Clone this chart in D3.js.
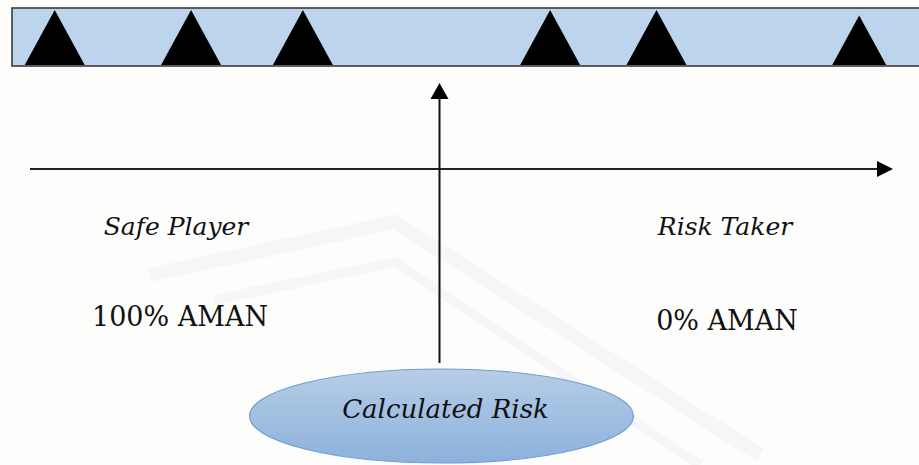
<!DOCTYPE html>
<html lang="en">
<head>
  <meta charset="UTF-8">
  <title>Calculated Risk</title>
  <style>
    body {
      margin: 0;
      padding: 0;
      background-color: #fdfdfc;
    }
    #chart {
      width: 919px;
      height: 465px;
    }
    .label {
      font-family: "DejaVu Serif", serif;
      fill: #111;
    }
  </style>
</head>
<body>
  <div id="chart"></div>
  <script src="https://d3js.org/d3.v7.min.js"></script>
  <script>
    // obstacles along the top bar, position in % of bar length
    const markerValues = [4.7, 19.7, 32.0, 59.2, 70.9, 93.2];
    const markerHeights = [1, 1, 1, 1, 1, 0.9];

    const profiles = ["Safe Player", "Risk Taker"];
    const safety = [100, 0];
    const centerLabel = "Calculated Risk";
    const centerSafety = 50;

    const width = 919;
    const height = 465;

    const svg = d3.select("#chart")
      .append("svg")
      .attr("width", width)
      .attr("height", height);

    const defs = svg.append("defs");
    const grad = defs.append("linearGradient")
      .attr("id", "ellGrad")
      .attr("x1", 0).attr("y1", 0).attr("x2", 0).attr("y2", 1);
    grad.append("stop").attr("offset", "0%").attr("stop-color", "#b7cde7");
    grad.append("stop").attr("offset", "100%").attr("stop-color", "#8cb1db");

    // faint watermark chevrons
    const wm = svg.append("g").attr("fill", "none").attr("stroke", "#f5f6f7");
    wm.append("path")
      .attr("stroke-width", 14)
      .attr("d", "M150,275 L395,222 L760,455");
    wm.append("path")
      .attr("stroke-width", 10)
      .attr("d", "M215,300 L395,262 L700,465");

    // top bar
    const bar = { x0: 12, x1: 921, y0: 8, y1: 66 };
    const x = d3.scaleLinear().domain([0, 100]).range([bar.x0, bar.x1]);
    const h = d3.scaleLinear().domain([0, 1]).range([0, bar.y1 - bar.y0 - 3]);

    svg.append("rect")
      .attr("x", bar.x0)
      .attr("y", bar.y0)
      .attr("width", bar.x1 - bar.x0)
      .attr("height", bar.y1 - bar.y0)
      .attr("fill", "#bdd5ec")
      .attr("stroke", "#3a3a3a")
      .attr("stroke-width", 1.6);

    const half = 30;
    svg.selectAll(".marker")
      .data(markerValues)
      .enter()
      .append("path")
      .attr("class", "marker")
      .attr("fill", "#000")
      .attr("d", (d, i) => {
        const cx = x(d);
        const base = bar.y1 - 1;
        const top = base - h(markerHeights[i]);
        const w = half * markerHeights[i];
        return `M${cx - w},${base} L${cx},${top} L${cx + w},${base} Z`;
      });

    // axes: horizontal spectrum, vertical arrow
    const sx = d3.scaleLinear().domain([100, 0]).range([178, 727]);
    const axisY = 169;
    const vx = sx(centerSafety) - 13;

    svg.append("line")
      .attr("x1", 30).attr("x2", 879)
      .attr("y1", axisY).attr("y2", axisY)
      .attr("stroke", "#222").attr("stroke-width", 2);
    svg.append("path")
      .attr("fill", "#000")
      .attr("d", `M893,${axisY} L877,${axisY - 8} L877,${axisY + 8} Z`);

    svg.append("line")
      .attr("x1", vx).attr("x2", vx)
      .attr("y1", 363).attr("y2", 96)
      .attr("stroke", "#111").attr("stroke-width", 2);
    svg.append("path")
      .attr("fill", "#000")
      .attr("d", `M${vx},83 L${vx - 9},99 L${vx + 9},99 Z`);

    // profile labels
    svg.selectAll(".profile")
      .data(profiles)
      .enter()
      .append("text")
      .attr("class", "label profile")
      .attr("x", (d, i) => sx(safety[i]) - 2)
      .attr("y", 235)
      .attr("text-anchor", "middle")
      .style("font-style", "italic")
      .style("font-size", "25px")
      .text(d => d);

    svg.selectAll(".safety")
      .data(safety)
      .enter()
      .append("text")
      .attr("class", "label safety")
      .attr("x", d => sx(d) + (d === 0 ? 0 : 2))
      .attr("y", (d, i) => i === 0 ? 326 : 330)
      .attr("text-anchor", "middle")
      .style("font-size", "27px")
      .text(d => `${d}% AMAN`);

    // center ellipse
    svg.append("ellipse")
      .attr("cx", vx + 2)
      .attr("cy", 416)
      .attr("rx", 192)
      .attr("ry", 47)
      .attr("fill", "url(#ellGrad)")
      .attr("stroke", "#6d9fd3")
      .attr("stroke-width", 1.2);

    svg.append("text")
      .attr("class", "label")
      .attr("x", vx + 6)
      .attr("y", 418)
      .attr("text-anchor", "middle")
      .style("font-style", "italic")
      .style("font-size", "26px")
      .text(centerLabel);
  </script>
</body>
</html>
